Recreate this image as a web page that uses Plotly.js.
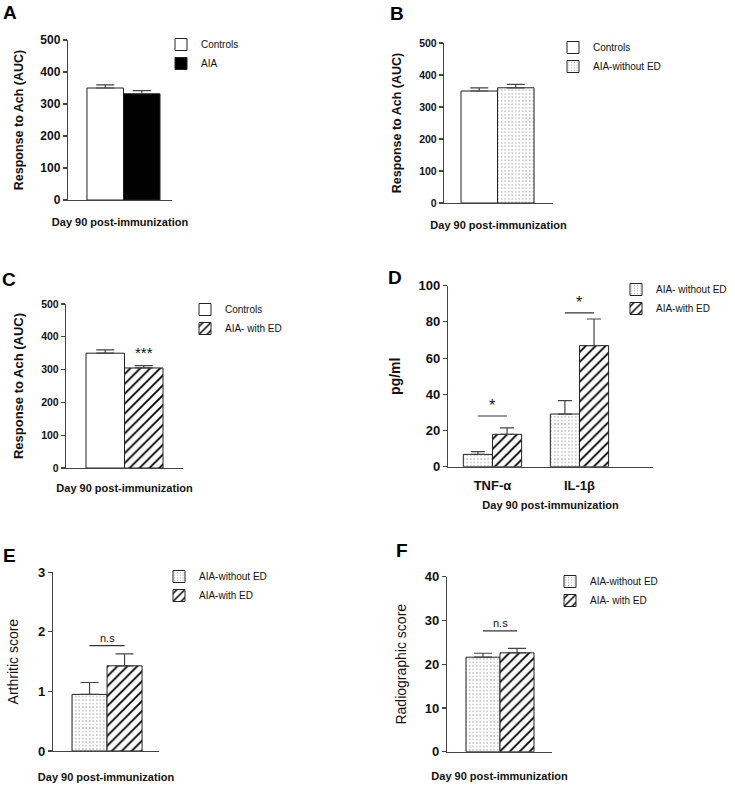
<!DOCTYPE html>
<html>
<head>
<meta charset="utf-8">
<script src="https://cdn.plot.ly/plotly-3.0.1.min.js"></script>
<style>html,body{margin:0;padding:0;background:#fff}#chart{width:735px;height:786px}</style>
</head>
<body>
<div id="chart"></div>
<script>
// ---------------- data ----------------
const groupLabel = ['Day 90'];
const xTitle = 'Day 90 post-immunization';

const aNames = ['Controls', 'AIA'];
const aValues = [350, 332];
const aErrors = [10, 10];

const bNames = ['Controls', 'AIA-without ED'];
const bValues = [350, 360];
const bErrors = [10, 11];

const cNames = ['Controls', 'AIA- with ED'];
const cValues = [350, 305];
const cErrors = [10, 7];
const cSigText = ['***'];

const dCategories = ['TNF-\u03b1', 'IL-1\u03b2'];
const dNames = ['AIA- without ED', 'AIA-with ED'];
const dWithout = [6.8, 29.1];
const dWithoutErr = [1.5, 7.4];
const dWith = [17.9, 66.9];
const dWithErr = [3.6, 14.7];
const dSigY = [28, 85];
const dSigText = ['*', '*'];

const eNames = ['AIA-without ED', 'AIA-with ED'];
const eValues = [0.95, 1.43];
const eErrors = [0.2, 0.2];
const eSigY = [1.77];
const eSigText = ['n.s'];

const fNames = ['AIA-without ED', 'AIA- with ED'];
const fValues = [21.6, 22.6];
const fErrors = [0.9, 1.0];
const fSigY = [27.6];
const fSigText = ['n.s'];

const yTitles = ['Response to Ach (AUC)', 'Response to Ach (AUC)', 'Response to Ach (AUC)', 'pg/ml', 'Arthritic score', 'Radiographic score'];
const panelLetters = ['A', 'B', 'C', 'D', 'E', 'F'];

// ---------------- styles ----------------
const FONT = 'Liberation Sans, Arial, sans-serif';
const W = 735, H = 786;
const px = p => p / W;
const py = p => 1 - p / H;
const AX = '#444';

const STYLE = {
  white: {color: '#ffffff', pattern: {shape: ''}},
  black: {color: '#000000', pattern: {shape: ''}},
  dots: {color: '#ffffff', pattern: {shape: '.', size: 3.5, solidity: 0.12, fgcolor: '#8a8a8a', bgcolor: '#ffffff', fillmode: 'replace'}},
  hatch: {color: '#ffffff', pattern: {shape: '/', size: 7, solidity: 0.26, fgcolor: '#000', bgcolor: '#ffffff', fillmode: 'replace'}}
};

function bar(name, x, y, err, n, style, capW) {
  const s = STYLE[style];
  return {
    type: 'bar', name: name, x: x, y: y,
    xaxis: 'x' + (n === 1 ? '' : n), yaxis: 'y' + (n === 1 ? '' : n),
    legend: 'legend' + (n === 1 ? '' : n),
    marker: {color: s.color, pattern: s.pattern, line: {color: '#222', width: 1}},
    error_y: {type: 'data', symmetric: false, array: err, arrayminus: err.map(() => 0),
              color: '#444', thickness: 1.2, width: capW},
    hoverinfo: 'skip'
  };
}

const data = [
  bar(aNames[0], groupLabel, [aValues[0]], [aErrors[0]], 1, 'white', 9),
  bar(aNames[1], groupLabel, [aValues[1]], [aErrors[1]], 1, 'black', 9),
  bar(bNames[0], groupLabel, [bValues[0]], [bErrors[0]], 2, 'white', 9),
  bar(bNames[1], groupLabel, [bValues[1]], [bErrors[1]], 2, 'dots', 9),
  bar(cNames[0], groupLabel, [cValues[0]], [cErrors[0]], 3, 'white', 9),
  bar(cNames[1], groupLabel, [cValues[1]], [cErrors[1]], 3, 'hatch', 9),
  bar(dNames[0], dCategories, dWithout, dWithoutErr, 4, 'dots', 7),
  bar(dNames[1], dCategories, dWith, dWithErr, 4, 'hatch', 7),
  bar(eNames[0], groupLabel, [eValues[0]], [eErrors[0]], 5, 'dots', 9),
  bar(eNames[1], groupLabel, [eValues[1]], [eErrors[1]], 5, 'hatch', 9),
  bar(fNames[0], groupLabel, [fValues[0]], [fErrors[0]], 6, 'dots', 9),
  bar(fNames[1], groupLabel, [fValues[1]], [fErrors[1]], 6, 'hatch', 9)
];

// panel geometry in pixels: [xLeft, xRight, yTop, yBottom], x range, y range, dtick, fonts
const geo = [
  {x: [68, 172], y: [40, 200], xr: [-0.509, 0.445], yr: [0, 500], dt: 100, tf: 12, yf: 12.5, ys: 14, xs: 18, ybold: true},
  {x: [444, 553], y: [43, 203], xr: [-0.491, 0.509], yr: [0, 500], dt: 100, tf: 10.5, yf: 12.5, ys: 14, xs: 18, ybold: true},
  {x: [66, 183], y: [304, 468], xr: [-0.509, 0.509], yr: [0, 500], dt: 100, tf: 10.5, yf: 13, ys: 14, xs: 16, ybold: true},
  {x: [448, 653], y: [285.7, 466.7], xr: [-0.511, 1.845], yr: [0, 100], dt: 20, tf: 13, yf: 14, ys: 14, xs: 9, ybold: true},
  {x: [53, 159], y: [572.3, 751], xr: [-0.517, 0.497], yr: [0, 3], dt: 1, tf: 13, yf: 14, ys: 16, xs: 22, ybold: false},
  {x: [447, 552], y: [576.7, 751.7], xr: [-0.522, 0.512], yr: [0, 40], dt: 10, tf: 13, yf: 14, ys: 14, xs: 20, ybold: false}
];

const layout = {
  width: W, height: H,
  margin: {l: 0, r: 0, t: 0, b: 0},
  paper_bgcolor: '#fff', plot_bgcolor: 'rgba(0,0,0,0)',
  font: {family: FONT, color: '#111'},
  barmode: 'group', bargap: 0.33, bargroupgap: 0,
  showlegend: true,
  annotations: [], shapes: []
};

geo.forEach((g, i) => {
  const n = i + 1, sfx = n === 1 ? '' : n;
  layout['xaxis' + sfx] = {
    domain: [px(g.x[0]), px(g.x[1])], range: g.xr, type: 'category',
    anchor: 'y' + sfx, showline: true, linecolor: AX, linewidth: 1.2,
    ticks: '', showticklabels: n === 4, ticklabelstandoff: 6,
    tickfont: {family: FONT, size: 13, weight: 'bold', color: '#111'},
    showgrid: false, zeroline: false, fixedrange: true,
    title: {text: xTitle, font: {family: FONT, size: 11, weight: 'bold', color: '#111'}, standoff: g.xs}
  };
  layout['yaxis' + sfx] = {
    domain: [py(g.y[1]), py(g.y[0])], range: g.yr, dtick: g.dt, tick0: 0,
    anchor: 'x' + sfx, showline: true, linecolor: AX, linewidth: 1.2,
    ticks: 'outside', ticklen: 4, tickcolor: AX, tickwidth: 1.2,
    tickfont: {family: FONT, size: g.tf, weight: 'bold', color: '#111'},
    showgrid: false, zeroline: false, fixedrange: true,
    title: {text: yTitles[i], font: {family: FONT, size: g.yf, weight: g.ybold ? 'bold' : 'normal', color: '#111'}, standoff: g.ys}
  };
});

// legends: [text left px, first item centre px]
const legPos = [[201, 43], [593, 46], [225, 308], [656, 288], [199, 575], [590, 580]];
legPos.forEach((p, i) => {
  const sfx = i === 0 ? '' : (i + 1);
  layout['legend' + sfx] = {
    x: px(p[0] - 40), y: py(p[1] - 13), xanchor: 'left', yanchor: 'top',
    bgcolor: 'rgba(0,0,0,0)', borderwidth: 0, tracegroupgap: 0,
    font: {family: FONT, size: 10, color: '#111'}, traceorder: 'normal'
  };
});

// panel letters
const letterPos = [[10, 12], [397, 14], [9, 279], [395, 277], [9, 555], [402, 550]];
letterPos.forEach((p, i) => {
  layout.annotations.push({
    xref: 'paper', yref: 'paper', x: px(p[0]), y: py(p[1]), xanchor: 'center', yanchor: 'middle',
    text: panelLetters[i], showarrow: false, font: {family: FONT, size: 19, weight: 'bold', color: '#000'}
  });
});

// significance lines & labels
const barOffset = 0.1675;
function sig(n, cat, yLine, text, size, withLine) {
  const sfx = n === 1 ? '' : n;
  if (withLine) {
    layout.shapes.push({type: 'line', xref: 'x' + sfx, yref: 'y' + sfx,
      x0: cat - barOffset, x1: cat + barOffset, y0: yLine, y1: yLine,
      line: {color: '#333', width: 1.2}});
  }
  layout.annotations.push({xref: 'x' + sfx, yref: 'y' + sfx, x: withLine ? cat : cat + barOffset, y: yLine,
    xanchor: 'center', yanchor: 'bottom', yshift: withLine ? 0 : 3, text: text, showarrow: false,
    font: {family: FONT, size: size, color: '#111'}});
}
sig(3, 0, cValues[1] + cErrors[1], cSigText[0], 15, false);
dSigY.forEach((v, k) => sig(4, k, v, dSigText[k], 16, true));
sig(5, 0, eSigY[0], eSigText[0], 11, true);
sig(6, 0, fSigY[0], fSigText[0], 11, true);

Plotly.newPlot('chart', data, layout, {staticPlot: true, displayModeBar: false});
</script>
</body>
</html>
